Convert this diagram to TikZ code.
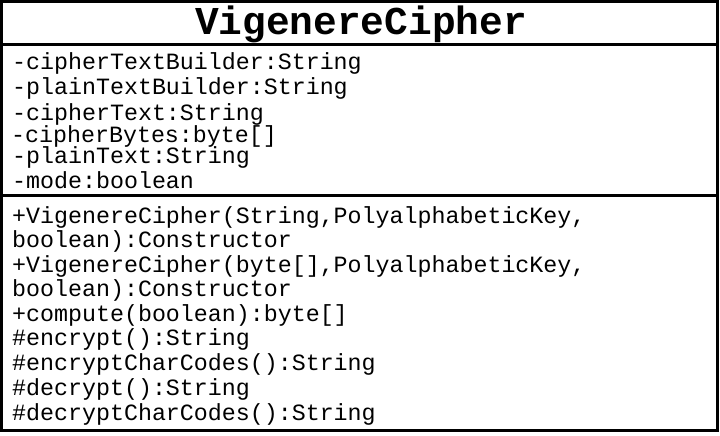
\documentclass[tikz,border=0pt]{standalone}
\usepackage{fontspec}
\setmonofont{Liberation Mono}
\usetikzlibrary{positioning}
\tikzset{
		member/.style={anchor=base west, inner sep=0pt, font=\ttfamily\fontsize{23.3}{28}\selectfont},
		classname/.style={anchor=base, inner sep=0pt, font=\ttfamily\bfseries\fontsize{39.5}{44}\selectfont}
	}

\begin{document}
\begin{tikzpicture}[x=1pt, y=-1pt]
		\useasboundingbox (0,0) rectangle (720,436);
		\begin{scope}[line width=3pt]
			\draw (1.5,1.5) rectangle (717,430);
			\draw (1.5,45) -- (717,45);
			\draw (1.5,195) -- (717,195);
		\end{scope}
		\node[classname] (name) at (361,35) {VigenereCipher};
		% attributes
		\node[member] (attrA) at (12,70) {-cipherTextBuilder:String};
		\node[member] (attrB) at (12,95) {-plainTextBuilder:String};
		\node[member] (attrC) at (12,120) {-cipherText:String};
		\node[member] (attrD) at (11,142) {-cipherBytes:byte[]};
		\node[member] (attrE) at (12,163) {-plainText:String};
		\node[member] (attrF) at (12,188) {-mode:boolean};
		% operations
		\node[member] (opA) at (12,223) {+VigenereCipher(String,PolyalphabeticKey,};
		\node[member] (opB) at (12,247) {boolean):Constructor};
		\node[member] (opC) at (12,272) {+VigenereCipher(byte[],PolyalphabeticKey,};
		\node[member] (opD) at (12,296) {boolean):Constructor};
		\node[member] (opE) at (12,321) {+compute(boolean):byte[]};
		\node[member] (opF) at (12,345) {\#encrypt():String};
		\node[member] (opG) at (12,370) {\#encryptCharCodes():String};
		\node[member] (opH) at (12,395) {\#decrypt():String};
		\node[member] (opI) at (12,420) {\#decryptCharCodes():String};
	\end{tikzpicture}
\end{document}
